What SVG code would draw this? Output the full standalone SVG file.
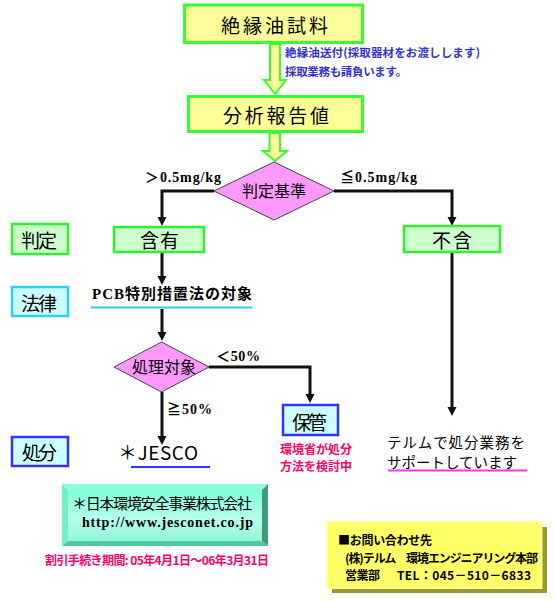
<svg xmlns="http://www.w3.org/2000/svg" width="555" height="602" viewBox="0 0 555 602">
<style>
.jp{font-family:"Noto Sans CJK JP","Liberation Sans",sans-serif;}
.sr{font-family:"Liberation Serif","Noto Sans CJK JP",serif;font-weight:bold;}
.ybox{fill:#FFFF99;stroke:#33FF33;stroke-width:3;}
.gbox{fill:#CCFFCC;stroke:#33EE33;stroke-width:2.5;}
.cbox{fill:#CCFFFF;stroke:#33CCFF;stroke-width:2.5;}
.bbox{fill:#CCFFFF;stroke:#3333FF;stroke-width:2.5;}
.dia{fill:#FF99FF;stroke:#444444;stroke-width:1;}
.big{font-size:19px;fill:#000;}
.mid{font-size:16px;fill:#000;}
.blue{font-size:11.5px;font-weight:bold;fill:#3333CC;}
.red{font-size:12px;font-weight:bold;fill:#FF0066;}
.blk{font-size:12px;font-weight:bold;fill:#000;}
.conn{fill:none;stroke:#111111;stroke-width:3;}
.barrow{fill:#FFFF99;stroke:#33FF33;stroke-width:2;}
</style>
<defs>
<marker id="ah" markerWidth="10" markerHeight="10" refX="4" refY="4.5" orient="auto" markerUnits="userSpaceOnUse">
<path d="M0,0 L9,4.5 L0,9 z" fill="#111111"/>
</marker>
<linearGradient id="face" x1="0" y1="0" x2="0" y2="1">
<stop offset="0" stop-color="#80FFD6"/>
<stop offset="0.55" stop-color="#B6FFEB"/>
<stop offset="1" stop-color="#92F6D8"/>
</linearGradient>
</defs>

<g id="connectors">
<polygon class="barrow" points="270,44 280,44 280,80 286,80 275,94 264,80 270,80"/>
<polygon class="barrow" points="269.5,133 280,133 280,151 287,151 275,161 263,151 269.5,151"/>
<path class="conn" d="M214,191 H162 V221" marker-end="url(#ah)"/>
<path class="conn" d="M334,191 H452 V221" marker-end="url(#ah)"/>
<path class="conn" d="M162,253 V280" marker-end="url(#ah)"/>
<path class="conn" d="M162,309 V336" marker-end="url(#ah)"/>
<path class="conn" d="M209,367 H310 V398" marker-end="url(#ah)"/>
<path class="conn" d="M162,392 V440" marker-end="url(#ah)"/>
<path class="conn" d="M452,253 V411" marker-end="url(#ah)"/>
<text class="sr" x="145" y="182" font-size="14" textLength="76">＞0.5mg/kg</text>
<text class="sr" x="340" y="182" font-size="14" textLength="77">≦0.5mg/kg</text>
<text class="sr" x="216" y="361" font-size="14" textLength="44">＜50%</text>
<text class="sr" x="167" y="414" font-size="14" textLength="45">≧50%</text>
</g>

<g id="node-sample">
<rect class="ybox" x="184.5" y="5" width="178" height="37.5"/>
<text class="jp big" x="221" y="33" textLength="107">絶縁油試料</text>
</g>

<g id="note-sampling">
<text class="jp blue" x="285" y="57" textLength="195">絶縁油送付(採取器材をお渡しします)</text>
<text class="jp blue" x="285" y="76" textLength="122">採取業務も請負います。</text>
</g>

<g id="node-report">
<rect class="ybox" x="188.5" y="96.5" width="174" height="35"/>
<text class="jp big" x="223" y="123" textLength="106">分析報告値</text>
</g>

<g id="node-criteria">
<polygon class="dia" points="274,162 334,191 274,220 214,191"/>
<text class="jp mid" x="274" y="197" text-anchor="middle">判定基準</text>
</g>

<g id="label-judge">
<rect class="gbox" x="12" y="224" width="56" height="30"/>
<text class="jp big" x="21" y="248" textLength="36">判定</text>
</g>

<g id="label-law">
<rect class="cbox" x="12" y="287" width="56" height="29"/>
<text class="jp big" x="21" y="311" textLength="36">法律</text>
</g>

<g id="label-disposal">
<rect class="bbox" x="12" y="437" width="56" height="29"/>
<text class="jp big" x="22" y="460" textLength="35">処分</text>
</g>

<g id="node-contains">
<rect class="gbox" x="114" y="227" width="90" height="25"/>
<text class="jp big" x="140" y="248" textLength="39">含有</text>
</g>

<g id="node-notcontains">
<rect class="gbox" x="404" y="226" width="96" height="26"/>
<text class="jp big" x="432" y="248" textLength="40">不含</text>
</g>

<g id="node-pcb-law">
<text class="sr" x="92" y="299" font-size="15" textLength="160">PCB特別措置法の対象</text>
<line x1="91" y1="307.5" x2="252" y2="307.5" stroke="#33CCFF" stroke-width="2"/>
</g>

<g id="node-target">
<polygon class="dia" points="161.5,342 209,367 161.5,392 114,367"/>
<text class="jp mid" x="164" y="373" text-anchor="middle">処理対象</text>
</g>

<g id="node-storage">
<rect class="bbox" x="283" y="405" width="55" height="30"/>
<text class="jp big" x="292" y="430" textLength="35">保管</text>
</g>

<g id="note-storage">
<text class="jp red"><tspan x="316" y="454" text-anchor="middle">環境省が処分</tspan><tspan x="316" y="471" text-anchor="middle">方法を検討中</tspan></text>
</g>

<g id="node-jesco">
<text class="jp big" x="118" y="460" textLength="80">＊JESCO</text>
<line x1="131" y1="467" x2="210" y2="467" stroke="#3333FF" stroke-width="2"/>
</g>

<g id="node-support">
<text class="jp" font-size="14.5"><tspan x="387" y="447.5" textLength="138">テルムで処分業務を</tspan><tspan x="387" y="467.5" textLength="130">サポートしています</tspan></text>
<line x1="388" y1="470.5" x2="527" y2="470.5" stroke="#FF33FF" stroke-width="2"/>
</g>

<g id="node-jesco-info">
<rect x="68" y="490" width="194" height="51" fill="url(#face)"/>
<polygon points="62,484 268,484 262,490 68,490" fill="#8AFFDD"/>
<polygon points="62,484 68,490 68,541 62,546" fill="#74EEC6"/>
<polygon points="268,484 268,546 262,541 262,490" fill="#3F9B7C"/>
<polygon points="62,546 268,546 262,541 68,541" fill="#52C9A0"/>
<text class="jp" x="72" y="508.5" font-size="15" fill="#000" textLength="180">＊日本環境安全事業株式会社</text>
<text class="sr" x="82" y="527" font-size="14" fill="#000" textLength="171">http://www.jesconet.co.jp</text>
</g>

<g id="note-discount">
<text class="jp red" x="45" y="565" textLength="224">割引手続き期間: 05年4月1日～06年3月31日</text>
</g>

<g id="node-contact">
<rect x="332" y="527" width="215" height="66" fill="#999933"/>
<rect x="327" y="522" width="214.5" height="66" fill="#FFFF66" stroke="#FFFF99" stroke-width="2"/>
<text class="jp blk" x="338" y="545" textLength="94">■お問い合わせ先</text>
<text class="jp blk" x="345" y="563" textLength="193">(株)テルム　環境エンジニアリング本部</text>
<text class="jp blk" x="345" y="580" textLength="35">営業部</text>
<text class="jp blk" x="397" y="580" textLength="134">TEL：045－510－6833</text>
</g>
</svg>
